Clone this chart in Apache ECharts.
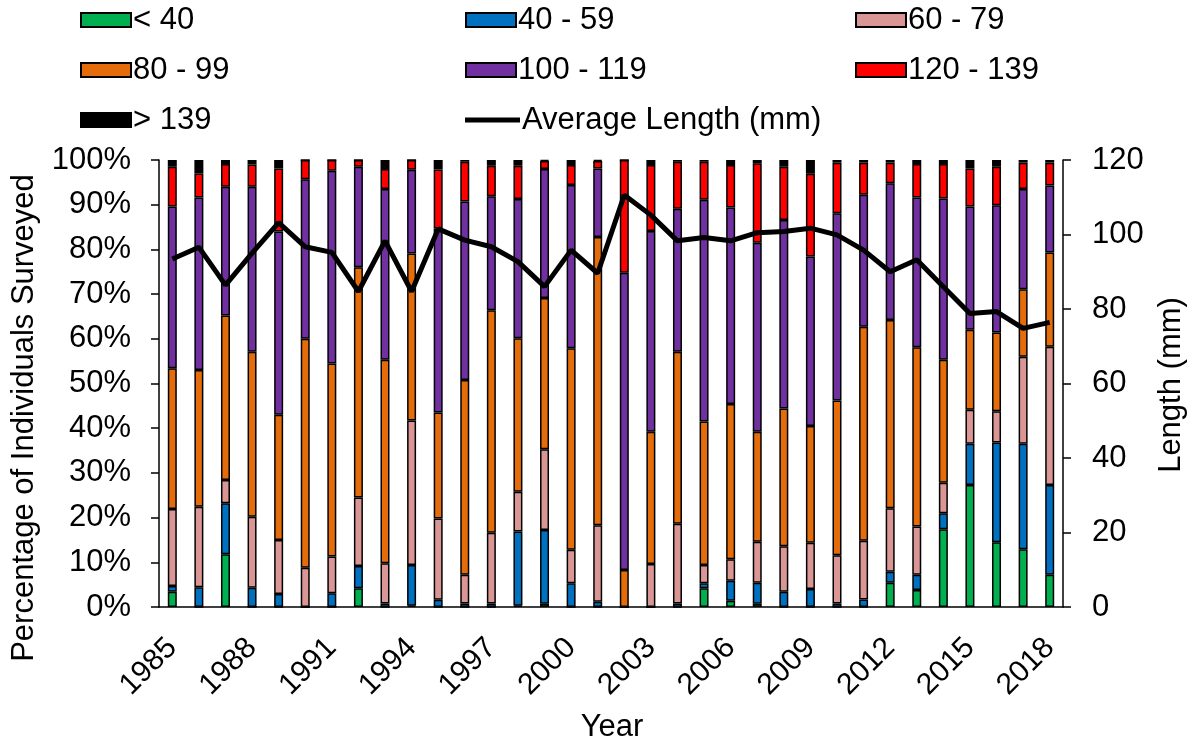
<!DOCTYPE html>
<html><head><meta charset="utf-8">
<script src="https://cdn.jsdelivr.net/npm/echarts@6/dist/echarts.min.js"></script>
<style>html,body{margin:0;padding:0;background:#fff}#c{width:1195px;height:745px}</style>
</head><body><div id="c"></div>
<script>
const years = ['1985','1986','1987','1988','1989','1990','1991','1992','1993','1994','1995','1996','1997','1998','1999','2000','2001','2002','2003','2004','2005','2006','2007','2008','2009','2010','2011','2012','2013','2014','2015','2016','2017','2018'];
const lt40    = [3.4,0,11.8,0,0,0,0,4.2,0,0.3,0,0,0,0.3,0.7,0,0,0,0,0,4.2,1.4,0.7,0,0,0,0,5.4,3.8,17.4,27.3,14.5,12.9,7.2];
const s40_59  = [1.3,4.4,11.4,4.3,2.9,0,3.1,5.0,0.8,9.1,1.6,0.8,0.8,16.6,16.5,5.3,1.2,0,0,0.8,1.1,4.5,4.7,3.4,4.0,0.8,1.7,2.5,3.4,3.6,9.2,22.3,23.6,20.1];
const s60_79  = [17.2,18.0,5.2,15.9,12.1,8.8,8.2,15.3,9.0,32.3,18.2,6.4,15.8,8.9,18.1,7.5,17.1,0,9.6,17.8,4.1,4.8,9.2,10.2,10.4,10.8,13.1,14.2,10.8,6.8,7.6,7.0,19.5,30.9];
const s80_99  = [31.5,30.6,36.8,36.9,28.0,51.2,43.2,51.5,45.5,37.4,23.7,43.6,49.8,34.3,33.8,45.1,64.5,8.3,29.6,38.5,32.1,34.7,24.6,30.8,26.1,34.6,47.9,42.1,40.1,27.5,17.9,17.6,15.1,21.1];
const s100_119= [36.2,38.6,28.8,36.9,41.0,35.7,43.1,22.5,38.2,18.7,41.2,39.9,25.5,31.2,28.9,36.5,15.3,66.5,44.9,32.0,49.6,44.0,42.3,42.2,37.9,41.9,29.5,30.6,33.5,36.1,27.6,28.5,22.4,15.0];
const s120_139= [8.9,5.4,5.1,5.0,14.1,4.3,2.4,1.5,4.5,2.2,13.2,8.9,6.8,7.4,1.8,4.5,1.7,25.2,14.8,10.5,8.5,9.5,17.8,11.9,18.5,11.3,7.2,4.6,7.5,7.7,8.5,8.6,5.9,5.1];
const gt139   = [1.5,3.0,0.9,1.0,1.9,0,0,0,2.0,0,2.1,0.4,1.3,1.3,0.2,1.1,0.2,0,1.1,0.4,0.4,1.1,0.7,1.5,3.1,0.6,0.6,0.6,0.9,0.9,1.9,1.5,0.6,0.6];
const avgLength = [93.4,96.6,86.4,95.0,103.2,96.7,95.2,84.7,98.3,84.7,101.5,98.5,96.7,92.7,86.0,95.8,89.6,110.6,105.2,98.3,99.2,98.3,100.5,100.8,101.7,99.9,95.8,90.0,93.2,86.0,78.8,79.3,74.8,76.4];
const pctTicks = ['0%','10%','20%','30%','40%','50%','60%','70%','80%','90%','100%'];

const FONT = 'Liberation Sans, Arial, sans-serif';
const FS = 31;
const barDefs = [
  ['< 40', lt40, '#00B050'],
  ['40 - 59', s40_59, '#0070C0'],
  ['60 - 79', s60_79, '#DA9694'],
  ['80 - 99', s80_99, '#E46C0A'],
  ['100 - 119', s100_119, '#7030A0'],
  ['120 - 139', s120_139, '#FF0000'],
  ['> 139', gt139, '#000000']
];
const series = barDefs.map(d => ({
  name: d[0], type: 'bar', stack: 'p', data: d[1], barWidth: 9,
  itemStyle: {color: d[2], borderColor: '#000', borderWidth: 1.5},
  emphasis: {disabled: true}
}));
series.push({
  name: 'Average Length (mm)', type: 'line', yAxisIndex: 1, data: avgLength,
  symbol: 'none', lineStyle: {color: '#000', width: 5}, itemStyle: {color: '#000'},
  z: 10
});

const legPos = [
  ['< 40', 80, 3], ['40 - 59', 465, 3], ['60 - 79', 855, 3],
  ['80 - 99', 80, 53], ['100 - 119', 465, 53], ['120 - 139', 855, 53],
  ['> 139', 80, 103], ['Average Length (mm)', 465, 103]
];
const legends = legPos.map(p => {
  const isLine = p[0] === 'Average Length (mm)';
  return {
    data: [{name: p[0], icon: 'rect'}], left: p[1], top: p[2],
    itemWidth: isLine ? 55 : 50, itemHeight: isLine ? 5 : 14, itemGap: 0,
    padding: 0, selectedMode: false,
    textStyle: {fontFamily: FONT, fontSize: FS, lineHeight: 34, color: '#000', padding: [0,0,0,-3]}
  };
});

const chart = echarts.init(document.getElementById('c'), null, {renderer: 'canvas'});
chart.setOption({
  animation: false,
  backgroundColor: '#fff',
  legend: legends,
  grid: {left: 159, right: 132, top: 160, bottom: 138},
  graphic: [
    {type: 'text', x: 24, y: 418, rotation: Math.PI / 2,
      style: {text: 'Percentage of Individuals Surveyed', font: FS + 'px ' + FONT, fill: '#000',
        align: 'center', verticalAlign: 'middle'}},
    {type: 'text', x: 1171, y: 385, rotation: Math.PI / 2,
      style: {text: 'Length (mm)', font: FS + 'px ' + FONT, fill: '#000',
        align: 'center', verticalAlign: 'middle'}},
    {type: 'text', x: 612, y: 727,
      style: {text: 'Year', font: FS + 'px ' + FONT, fill: '#000',
        align: 'center', verticalAlign: 'middle'}}
  ],
  xAxis: {
    type: 'category', data: years, boundaryGap: true,
    axisLine: {lineStyle: {color: '#000', width: 1.5}},
    axisTick: {interval: 0, length: 8, lineStyle: {color: '#000', width: 1.5}},
    axisLabel: {interval: 2, rotate: 45, fontFamily: FONT, fontSize: 30, color: '#000', margin: 36}
  },
  yAxis: [{
    type: 'value', min: 0, max: 100, interval: 10,
    axisLine: {show: true, lineStyle: {color: '#000', width: 1.5}},
    axisTick: {show: true, length: 8, lineStyle: {color: '#000', width: 1.5}},
    splitLine: {show: false},
    axisLabel: {fontFamily: FONT, fontSize: FS, color: '#000', margin: 28,
      formatter: v => pctTicks[Math.round(v / 10)]}
  }, {
    type: 'value', min: 0, max: 120, interval: 20, position: 'right',
    axisLine: {show: true, lineStyle: {color: '#000', width: 1.5}},
    axisTick: {show: true, length: 8, lineStyle: {color: '#000', width: 1.5}},
    splitLine: {show: false},
    axisLabel: {fontFamily: FONT, fontSize: FS, color: '#000', margin: 29}
  }],
  series: series
});
</script></body></html>
